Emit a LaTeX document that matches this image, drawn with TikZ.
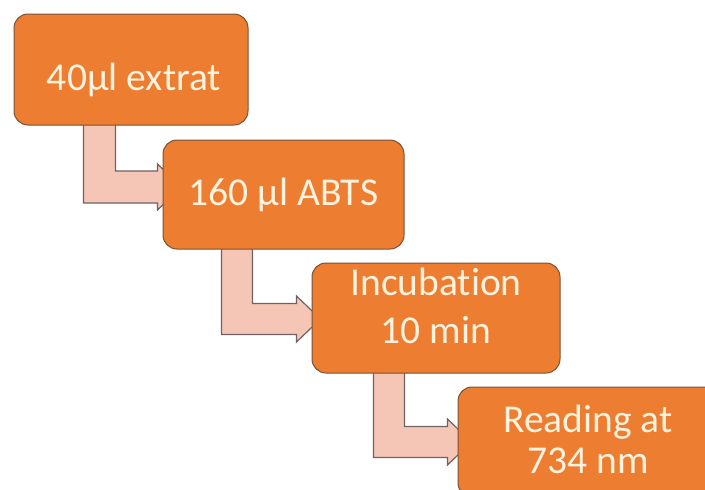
\documentclass[tikz,border=0pt]{standalone}
\usepackage{fontspec}
\setmainfont{Carlito}[Ligatures=NoCommon]
\usetikzlibrary{calc,backgrounds}
\definecolor{boxfill}{HTML}{ED7D31}
\definecolor{boxline}{HTML}{7A5236}
\definecolor{arrfill}{HTML}{F5C6B6}
\definecolor{arrline}{HTML}{6E6262}
\definecolor{txtcol}{HTML}{FFF2DE}
\begin{document}
\begin{tikzpicture}[x=1pt,y=-1pt,
  stepbox/.style={draw=boxline, line width=1pt, fill=boxfill, rounded corners=14pt, inner sep=0pt},
  txt/.style={text=txtcol, font=\fontsize{39.5}{44}\selectfont, anchor=base, inner sep=0pt},
  bent/.style={draw=arrline, line width=1.2pt, fill=arrfill, line join=miter}]
\useasboundingbox (0,0) rectangle (705,490);
\clip (0,0) rectangle (705,490);
\node[stepbox, minimum width=234pt, minimum height=111pt] (b1) at (131,69.5) {};
\node[stepbox, minimum width=241pt, minimum height=109pt] (b2) at (283.5,194.5) {};
\node[stepbox, minimum width=248pt, minimum height=110pt] (b3) at (436,318) {};
\node[stepbox, minimum width=260pt, minimum height=110pt] (b4) at (588,442) {};
\node[txt] (t1) at (134,90) {40µl extrat};
\node[txt] (t2) at (283.5,205) {160 µl ABTS};
\node[txt] (t3a) at (436,295) {Incubation};
\node[txt] (t3b) at (436,343) {10 min};
\node[txt] (t4a) at (588,432) {Reading at};
\node[txt] (t4b) at (588,473) {734 nm};
\begin{pgfonlayer}{background}
  % arrow 1
  \coordinate (a1s) at ($(b1.south west)+(70,-5)$);
  \coordinate (a1e) at ($(b2.north west)+(-5,47.5)$);
  \draw[bent] (a1s) -- ++(32,0) |- ($(a1e)+(0,-16)$) -- ++(0,-7) -- ++(24,23) -- ++(-24,23) -- ++(0,-7) -| cycle;
  % arrow 2
  \coordinate (a2s) at ($(b2.south west)+(59,-5)$);
  \coordinate (a2e) at ($(b3.north west)+(-15,56.5)$);
  \draw[bent] (a2s) -- ++(31,0) |- ($(a2e)+(0,-15.5)$) -- ++(0,-7.5) -- ++(24,23) -- ++(-24,23) -- ++(0,-7.5) -| cycle;
  % arrow 3
  \coordinate (a3s) at ($(b3.south west)+(62,-5)$);
  \coordinate (a3e) at ($(b4.north west)+(-10,55.5)$);
  \draw[bent] (a3s) -- ++(31,0) |- ($(a3e)+(0,-15.5)$) -- ++(0,-7.5) -- ++(24,23) -- ++(-24,23) -- ++(0,-7.5) -| cycle;
\end{pgfonlayer}
\end{tikzpicture}
\end{document}
